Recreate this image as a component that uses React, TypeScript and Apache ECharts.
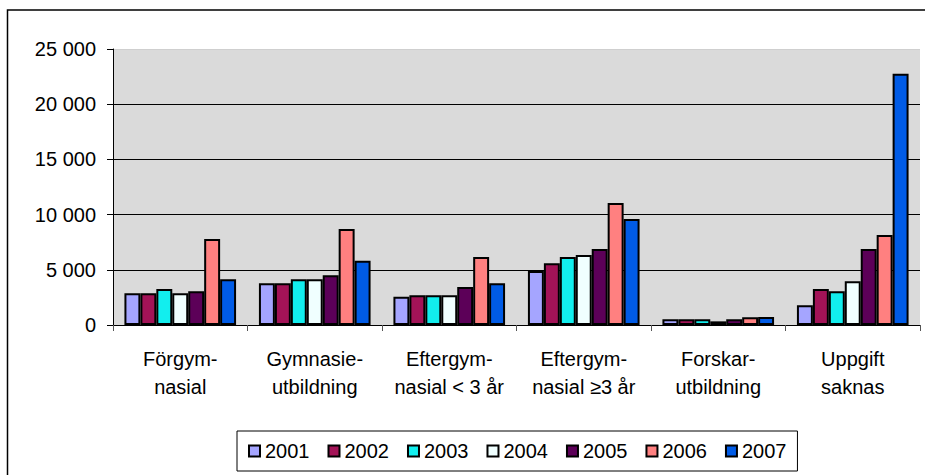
import React, { useEffect, useRef } from "react";
import * as echarts from "echarts";

const categories = [
  "Förgym-\nnasial",
  "Gymnasie-\nutbildning",
  "Eftergym-\nnasial < 3 år",
  "Eftergym-\nnasial ≥3 år",
  "Forskar-\nutbildning",
  "Uppgift\nsaknas",
];
const years = ["2001", "2002", "2003", "2004", "2005", "2006", "2007"];
const colors = ["#A5A5FF", "#A31357", "#12EEEE", "#F0FFFF", "#5C0058", "#FF8080", "#005BE6"];

const v2001 = [2880, 3790, 2550, 4880, 520, 1790];
const v2002 = [2880, 3790, 2700, 5600, 520, 3270];
const v2003 = [3270, 4150, 2700, 6150, 520, 3060];
const v2004 = [2880, 4150, 2700, 6330, 330, 3970];
const v2005 = [3060, 4510, 3450, 6880, 520, 6880];
const v2006 = [7790, 8700, 6150, 11060, 700, 8150];
const v2007 = [4150, 5820, 3790, 9600, 730, 22750];
const seriesValues = [v2001, v2002, v2003, v2004, v2005, v2006, v2007];

const yMin = 0;
const yMax = 25000;
const yInterval = 5000;

const FONT = "'Liberation Sans', Arial, sans-serif";

export default function App() {
  const ref = useRef<HTMLDivElement>(null);
  useEffect(() => {
    if (!ref.current) return;
    const chart = echarts.init(ref.current, null, { renderer: "svg" });
    chart.setOption({
      animation: false,
      backgroundColor: "#FFFFFF",
      textStyle: { fontFamily: FONT },
      grid: {
        left: 113,
        right: 5,
        top: 49,
        bottom: 150,
        show: true,
        backgroundColor: "#DADADA",
        borderWidth: 0,
      },
      graphic: [
        {
          type: "rect",
          shape: { x: 7.5, y: 10, width: 940, height: 490 },
          style: { fill: "none", stroke: "#000", lineWidth: 1.5 },
          silent: true,
        },
      ],
      legend: {
        left: 237,
        top: 431,
        width: 555,
        orient: "horizontal",
        padding: [10, 11, 10, 11],
        borderColor: "#000",
        borderWidth: 1,
        backgroundColor: "#FFFFFF",
        itemWidth: 11,
        itemHeight: 11,
        itemGap: 18,
        icon: "rect",
        textStyle: { fontFamily: FONT, fontSize: 20, color: "#000" },
        data: years,
      },
      xAxis: {
        type: "category",
        data: categories,
        axisLine: { show: true, lineStyle: { color: "#000", width: 1 } },
        axisTick: { show: true, length: 6, lineStyle: { color: "#555" } },
        axisLabel: {
          fontFamily: FONT,
          fontSize: 20,
          lineHeight: 28,
          color: "#000",
          margin: 20,
          interval: 0,
        },
        splitLine: { show: false },
      },
      yAxis: {
        type: "value",
        min: yMin,
        max: yMax,
        interval: yInterval,
        axisLine: { show: true, lineStyle: { color: "#000", width: 1 } },
        axisTick: { show: true, length: 6, lineStyle: { color: "#000" } },
        axisLabel: {
          fontFamily: FONT,
          fontSize: 20,
          color: "#000",
          margin: 17,
          formatter: (v: number) => String(v).replace(/\B(?=(\d{3})+(?!\d))/g, " "),
        },
        splitLine: {
          show: true,
          lineStyle: {
            color: ["#000", "#000", "#000", "#000", "#000", "#CFCFCF"],
            width: 1,
          },
        },
      },
      series: years.map((y, i) => ({
        name: y,
        type: "bar",
        data: seriesValues[i],
        barGap: "0%",
        barCategoryGap: "17%",
        itemStyle: { color: colors[i], borderColor: "#000", borderWidth: 2 },
      })),
    });
    return () => chart.dispose();
  }, []);
  return (
    <div
      ref={ref}
      style={{ position: "fixed", left: 0, top: 0, width: 925, height: 475 }}
    />
  );
}
